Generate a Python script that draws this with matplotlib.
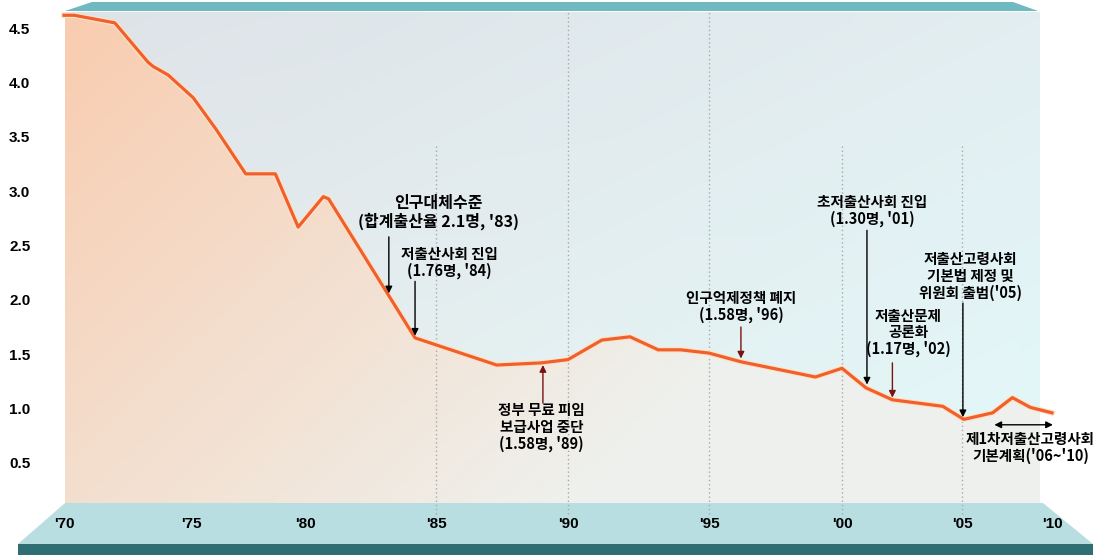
import numpy as np
import matplotlib
matplotlib.use("Agg")
import matplotlib.pyplot as plt
from matplotlib.patches import Polygon
from matplotlib.transforms import blended_transform_factory

plt.rcParams['font.family'] = ['Noto Sans CJK KR', 'DejaVu Sans']

# total fertility rate, vertices
YEARS = [1970.0, 1970.4, 1972.0, 1973.3, 1973.5, 1974.1, 1975.1, 1976.1, 1977.4,
         1978.7, 1979.7, 1980.7, 1980.9, 1984.2, 1987.3, 1989.0, 1990.0, 1991.2,
         1992.2, 1993.2, 1994.0, 1995.0, 1996.2, 1997.2, 1999.0, 2000.0, 2001.0,
         2002.1, 2004.2, 2005.1, 2006.7, 2007.8, 2008.8, 2010.0]
TFR = [4.62, 4.62, 4.55, 4.19, 4.15, 4.07, 3.86, 3.57, 3.16,
       3.16, 2.67, 2.95, 2.93, 1.65, 1.40, 1.42, 1.45, 1.63,
       1.66, 1.54, 1.54, 1.51, 1.43, 1.38, 1.29, 1.37, 1.19,
       1.08, 1.02, 0.90, 0.96, 1.10, 1.01, 0.96]

Y_TICKS = [0.5, 1.0, 1.5, 2.0, 2.5, 3.0, 3.5, 4.0, 4.5]
X_LABEL_YEARS = [1970, 1975, 1980, 1985, 1990, 1995, 2000, 2005, 2010]
X_LABELS = ["'70", "'75", "'80", "'85", "'90", "'95", "'00", "'05", "'10"]
GRID_YEARS = [1985, 1990, 1995, 2000, 2005]
GRID_TOPS = [3.43, 4.7, 4.7, 3.43, 3.43]

# the artwork spaces the years unevenly: pixel column of each labelled year
X_ANCHOR_PX = [64, 191, 305, 436, 568, 709, 842, 962, 1052]

W, H = 1107, 556
AX_PX = (65, 1040, 12, 503)   # left, right, top, bottom


def interp_ext(v, xp, fp):
    v = np.asarray(v, dtype=float)
    out = np.interp(v, xp, fp)
    lo_slope = (fp[1] - fp[0]) / (xp[1] - xp[0])
    hi_slope = (fp[-1] - fp[-2]) / (xp[-1] - xp[-2])
    out = np.where(v < xp[0], fp[0] + (v - xp[0]) * lo_slope, out)
    out = np.where(v > xp[-1], fp[-1] + (v - xp[-1]) * hi_slope, out)
    return out


def fwd(y):
    return interp_ext(y, X_LABEL_YEARS, X_ANCHOR_PX)


def inv(p):
    return interp_ext(p, X_ANCHOR_PX, X_LABEL_YEARS)


fig = plt.figure(figsize=(W / 100, H / 100), dpi=100)
l, r, t, b = AX_PX
ax = fig.add_axes([l / W, 1 - b / H, (r - l) / W, (b - t) / H])
ax.patch.set_visible(False)
ax.set_xscale('function', functions=(fwd, inv))
ylim = (0.13, 4.65)
xlim = (float(inv(l)), float(inv(r)))

# background gradient
ny, nx = 120, 240
yy, xx = np.mgrid[0:1:ny * 1j, 0:1:nx * 1j]
tl, tr = np.array([0.870, 0.890, 0.910]), np.array([0.890, 0.933, 0.945])
bl, br = np.array([0.915, 0.935, 0.930]), np.array([0.890, 0.976, 0.980])
bg = ((1 - yy)[..., None] * ((1 - xx)[..., None] * tl + xx[..., None] * tr)
      + yy[..., None] * ((1 - xx)[..., None] * bl + xx[..., None] * br))
ax.imshow(bg, extent=[0, 1, 0, 1], transform=ax.transAxes, aspect='auto',
          origin='upper', zorder=0, interpolation='bilinear')

# peach fill under the line, fading toward lower right
peach = np.array([0.976, 0.800, 0.686])
light = np.array([0.935, 0.945, 0.930])
tt = np.clip(0.5 * yy + 0.95 * xx, 0, 1)[..., None]
fill = (1 - tt) * peach + tt * light
im = ax.imshow(fill, extent=[0, 1, 0, 1], transform=ax.transAxes, aspect='auto',
               origin='upper', zorder=1, interpolation='bilinear')
verts = list(zip(YEARS, TFR)) + [(YEARS[-1], ylim[0]), (YEARS[0], ylim[0])]
poly = Polygon(verts, closed=True, facecolor='none', edgecolor='none',
               transform=ax.transData)
ax.add_patch(poly)
im.set_clip_path(poly)

ax.vlines(GRID_YEARS, ylim[0] - 0.1, GRID_TOPS, colors='#a9a9a9',
          linestyles=(0, (1, 2)), lw=1, zorder=2, clip_on=False)

ax.plot(YEARS, TFR, color='#ffe2c8', lw=4, zorder=3, clip_on=False,
        solid_joinstyle='round')
ax.plot(YEARS, TFR, color='#f0602c', lw=2.3, zorder=4, clip_on=False,
        solid_joinstyle='round')

ax.set_xlim(xlim)
ax.set_ylim(ylim)
for s in ax.spines.values():
    s.set_visible(False)
ax.set_xticks([])
ax.set_yticks(Y_TICKS)
ax.set_yticklabels([f"{v:.1f}" for v in Y_TICKS], family='Liberation Sans',
                   fontweight='bold', fontsize=11)
ax.tick_params(axis='y', length=0, pad=25)

# 3D-ish top band and bottom base, drawn beneath the axes
top_band = Polygon([(65 / W, 1 - 11 / H), (1038 / W, 1 - 11 / H),
                    (1013 / W, 1 - 2 / H), (92 / W, 1 - 2 / H)],
                   closed=True, transform=fig.transFigure, facecolor='#6fb9c1',
                   edgecolor='none', zorder=-2)
base = Polygon([(65 / W, 1 - 503 / H), (1043 / W, 1 - 503 / H),
                (1093 / W, 1 - 544 / H), (18 / W, 1 - 544 / H)],
               closed=True, transform=fig.transFigure, facecolor='#b8dee1',
               edgecolor='none', zorder=-2)
base_edge = Polygon([(18 / W, 1 - 544 / H), (1093 / W, 1 - 544 / H),
                     (1093 / W, 1 - 555 / H), (18 / W, 1 - 555 / H)],
                    closed=True, transform=fig.transFigure, facecolor='#2f6e72',
                    edgecolor='none', zorder=-2)
for p in (top_band, base, base_edge):
    fig.add_artist(p)

xt = blended_transform_factory(ax.transData, ax.transAxes)
for yr, lab in zip(X_LABEL_YEARS, X_LABELS):
    ax.text(yr, -0.042, lab, transform=xt, ha='center', va='center',
            family='Liberation Sans', fontweight='bold', fontsize=11,
            clip_on=False, zorder=6)

# annotations
DARK = '#7a1212'
arrow_kw = dict(arrowstyle='-|>', lw=1, shrinkA=0, shrinkB=0, mutation_scale=10)


def note(text, xy, size=10.5, ls=1.05):
    ax.text(xy[0], xy[1], text, ha='center', va='center', fontsize=size,
            fontweight='bold', linespacing=ls, zorder=6)


def arrow(x, y0, y1, color='black'):
    ax.annotate('', xy=(x, y1), xytext=(x, y0),
                arrowprops=dict(color=color, **arrow_kw), zorder=5)


note("인구대체수준\n(합계출산율 2.1명, '83)", (1985.1, 2.80), size=11.5, ls=1.1)
arrow(1983.2, 2.58, 2.06)
note("저출산사회 진입\n(1.76명, '84)", (1985.5, 2.345))
arrow(1984.2, 2.17, 1.67)
note("정부 무료 피임\n보급사업 중단\n(1.58명, '89)", (1989.0, 0.83))
arrow(1989.05, 1.05, 1.40, DARK)
note("인구억제정책 폐지\n(1.58명, '96)", (1996.2, 1.94))
arrow(1996.2, 1.75, 1.46, DARK)
note("초저출산사회 진입\n(1.30명, '01)", (2001.25, 2.82))
arrow(2001.04, 2.64, 1.22)
note("저출산문제\n공론화\n(1.17명, '02)", (2002.75, 1.70))
arrow(2002.1, 1.42, 1.10, DARK)
note("저출산고령사회\n기본법 제정 및\n위원회 출범('05)", (2005.45, 2.22))
arrow(2005.05, 1.97, 0.92)
note("제1차저출산고령사회\n기본계획('06~'10)", (2008.8, 0.64))
ax.annotate('', xy=(2010.05, 0.85), xytext=(2006.8, 0.85), annotation_clip=False,
            arrowprops=dict(arrowstyle='<|-|>', color='black', lw=1, shrinkA=0,
                            shrinkB=0, mutation_scale=10), zorder=5)

fig.savefig("out.png", dpi=100)
